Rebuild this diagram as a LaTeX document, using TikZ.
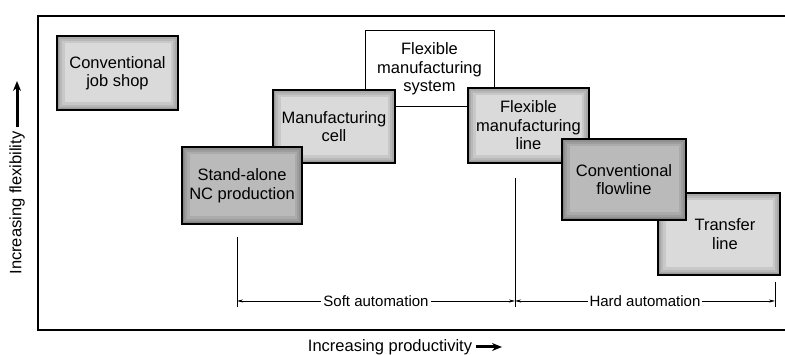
\documentclass[tikz,border=0pt]{standalone}
\usepackage{fontspec}
\setmainfont{Liberation Sans}
\usetikzlibrary{arrows.meta}
\definecolor{lgray}{RGB}{218,218,218}
\definecolor{dgray}{RGB}{186,186,186}

\begin{document}
\begin{tikzpicture}[x=1pt, y=1pt,
  box/.style={draw, line width=1.5pt, align=center, inner sep=2pt,
              font=\fontsize{16.5}{18.5}\selectfont, fill=lgray,
              path picture={\foreach \w in {3,6,10,15}
                \draw[black, opacity=0.08, line width=\w pt]
                  (path picture bounding box.south west) rectangle
                  (path picture bounding box.north east);}},
  darkbox/.style={box, fill=dgray},
  plainbox/.style={draw, line width=1pt, fill=white, align=center,
              font=\fontsize{16.5}{18.5}\selectfont},
  dim/.style={{Stealth[length=6pt,width=3pt]}-{Stealth[length=6pt,width=3pt]},
              line width=0.5pt},
  dimlabel/.style={font=\fontsize{15}{16}\selectfont, fill=white, inner sep=2pt},
  axislabel/.style={font=\fontsize{16.5}{18}\selectfont, inner sep=1pt},
  axisarrow/.style={-{Stealth[length=10pt,width=8pt]}, line width=3pt,
              shorten <=3pt},
]
\useasboundingbox (0,0) rectangle (785,355);

% frame (right side runs off the page)
\draw[line width=1.4pt] (800,339) -- (38,339) -- (38,25) -- (800,25);

% systems, back to front
\node[box, minimum width=121pt, minimum height=74pt] (jobshop) at (117.5,282)
  {Conventional\\job shop};
\node[plainbox, minimum width=129pt, minimum height=76pt] (fms) at (429.5,286)
  {Flexible\\manufacturing\\system};
\node[box, minimum width=122pt, minimum height=73pt] (cell) at (334,228.5)
  {Manufacturing\\cell};
\node[darkbox, minimum width=120pt, minimum height=77pt] (nc) at (242,169.5)
  {Stand-alone\\NC production};
\node[box, minimum width=121pt, minimum height=75pt] (fml) at (528.5,229.5)
  {Flexible\\manufacturing\\line};
\node[box, minimum width=122pt, minimum height=82pt] (transfer) at (719,121)
  {\hspace*{12pt}Transfer\\\hspace*{12pt}line};
\node[darkbox, minimum width=124pt, minimum height=81pt] (flowline) at (624,175.5)
  {Conventional\\flowline};

% automation ranges
\coordinate (s0) at (237,48);  \coordinate (s0top) at (237,118);
\coordinate (s1) at (515,48);  \coordinate (s1top) at (515,177);
\coordinate (s2) at (775,48);  \coordinate (s2top) at (775,73);
\draw[line width=0.6pt] (s0) -- (s0top);
\draw[line width=0.6pt] (s1) -- (s1top);
\draw[line width=0.6pt] (s2) -- (s2top);
\draw[dim] ([yshift=6pt]s0) -- ([yshift=6pt]s1)
  node[dimlabel, midway] (soft) {Soft automation};
\draw[dim] ([yshift=6pt]s1) -- ([yshift=6pt]s2)
  node[dimlabel, midway] (hard) {Hard automation};

% axes
\node[axislabel] (prod) at (390,8) {Increasing productivity};
\coordinate (prodend) at (502,8);
\draw[axisarrow] (prod.east) -- (prodend);
\node[axislabel, rotate=90] (flex) at (17,152) {Increasing flexibility};
\coordinate (flexend) at (17,274);
\draw[axisarrow] (flex.east) -- (flexend);
\end{tikzpicture}
\end{document}
